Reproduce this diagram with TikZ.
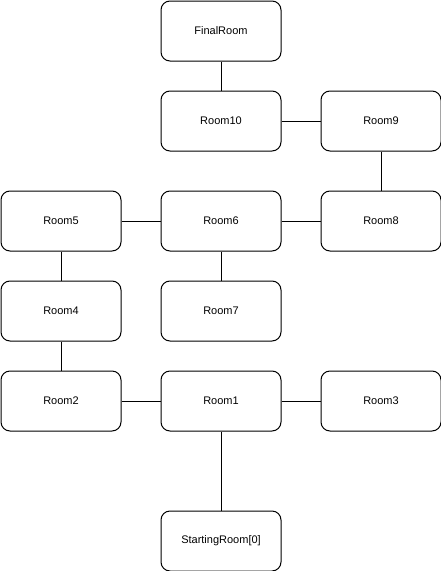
\documentclass[tikz,border=0pt]{standalone}
\usepackage{fontspec}
\setmainfont{Liberation Sans}
\begin{document}
\begin{tikzpicture}[x=1pt,y=-1pt,
  room/.style={draw=black,line width=1pt,rounded corners=9pt,minimum width=120pt,minimum height=60pt,inner sep=0pt,font=\fontsize{11pt}{13pt}\selectfont,anchor=north west},
  link/.style={draw=black,line width=1pt}]
\useasboundingbox (0,0) rectangle (441,571);
\node[room] (final) at (160.5,0.5) {FinalRoom};
\node[room] (r10) at (160.5,90.5) {Room10};
\node[room] (r9) at (320.5,90.5) {Room9};
\node[room] (r5) at (0.5,190.5) {Room5};
\node[room] (r6) at (160.5,190.5) {Room6};
\node[room] (r8) at (320.5,190.5) {Room8};
\node[room] (r4) at (0.5,280.5) {Room4};
\node[room] (r7) at (160.5,280.5) {Room7};
\node[room] (r2) at (0.5,370.5) {Room2};
\node[room] (r1) at (160.5,370.5) {Room1};
\node[room] (r3) at (320.5,370.5) {Room3};
\node[room] (start) at (160.5,510.5) {StartingRoom[0]};
\draw[link] (final) -- (r10);
\draw[link] (r10) -- (r9);
\draw[link] (r9) -- (r8);
\draw[link] (r5) -- (r6);
\draw[link] (r6) -- (r8);
\draw[link] (r6) -- (r7);
\draw[link] (r5) -- (r4);
\draw[link] (r4) -- (r2);
\draw[link] (r2) -- (r1);
\draw[link] (r1) -- (r3);
\draw[link] (r1) -- (start);
\end{tikzpicture}
\end{document}
